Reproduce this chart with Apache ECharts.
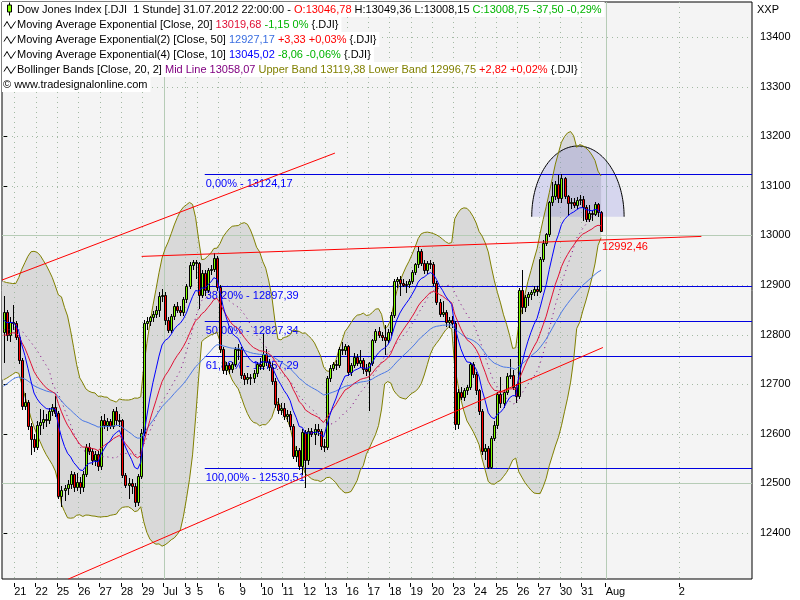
<!DOCTYPE html>
<html><head><meta charset="utf-8">
<script src="https://cdn.jsdelivr.net/npm/echarts@6.0.0/dist/echarts.min.js"></script>
<style>html,body{margin:0;padding:0;background:#fff}#c{width:800px;height:600px}</style>
</head><body><div id="c"></div>
<script>
// ---------- DATA (hourly bars, Dow Jones Index, 20 Jun - 31 Jul 2012) ----------
const opens = [
 12806,12846,12800,12826,
 12824,12796,12748,12657,12664,12615,12590,
 12574,12618,12624,12630,12627,12645,12655,
 12641,12474,12486,12490,12499,12520,12492,
 12503,12492,12520,12574,12566,12548,12560,
 12535,12628,12618,12625,12616,12645,12628,
 12627,12517,12496,12500,12494,12462,12514,
 12602,12823,12828,12835,12842,12850,12878,
 12880,12830,12810,12838,12858,12850,12845,
 12871,12898,12940,12947,
 12944,12880,12925,12890,12930,12932,12955,
 12897,12772,12728,12738,12730,12740,12770,
 12772,12718,12710,12714,12712,12722,12740,
 12736,12760,12745,12735,12706,12660,12648,
 12653,12636,12640,12615,12556,12568,12535,
 12604,12548,12605,12600,12610,12605,12576,
 12573,12712,12732,12740,12738,12770,12768,
 12777,12725,12738,12755,12742,12748,12730,
 12727,12742,12789,12808,12799,12796,12790,
 12805,12840,12908,12912,12905,12900,12902,
 12909,12927,12942,12968,12945,12930,12944,
 12943,12905,12866,12842,12846,12826,12830,
 12823,12620,12684,12675,12688,12694,12740,
 12721,12688,12645,12565,12572,12534,12592,
 12617,12680,12662,12684,12717,12718,12695,
 12676,12890,12855,12876,12882,12886,12892,
 12888,12952,12985,13002,13068,13080,13104,
 13076,13115,13080,13066,13068,13062,13072,
 13073,13058,13034,13046,13044,13064,13046.78];
const highs = [
 12877,12850,12835,12860,
 12828,12800,12752,12682,12668,12622,12600,
 12625,12650,12648,12640,12652,12660,12676,
 12646,12495,12496,12506,12525,12524,12522,
 12512,12525,12580,12582,12572,12565,12566,
 12635,12640,12632,12630,12650,12655,12640,
 12630,12522,12510,12508,12500,12518,12610,
 12830,12835,12838,12848,12858,12886,12892,
 12885,12836,12842,12862,12866,12858,12875,
 12902,12946,12950,12950,
 12946,12930,12930,12935,12940,12964,12958,
 12900,12775,12745,12742,12745,12775,12782,
 12776,12722,12722,12720,12728,12745,12752,
 12802,12770,12750,12742,12712,12672,12662,
 12662,12648,12645,12620,12575,12572,12610,
 12608,12612,12612,12620,12620,12610,12590,
 12716,12738,12745,12748,12775,12785,12782,
 12780,12742,12762,12760,12768,12752,12740,
 12745,12792,12812,12815,12805,12820,12812,
 12845,12912,12916,12918,12912,12908,12912,
 12930,12945,12977,12972,12950,12948,12950,
 12946,12908,12872,12868,12850,12835,12838,
 12828,12690,12695,12692,12698,12745,12744,
 12724,12690,12650,12580,12575,12596,12625,
 12685,12715,12688,12722,12750,12728,12700,
 12893,12930,12880,12885,12890,12898,12898,
 12956,12990,13005,13070,13108,13110,13122,
 13124.17,13118,13082,13075,13076,13078,13082,
 13080,13062,13062,13050,13068,13066,13049.36];
const lows = [
 12745,12790,12788,12812,
 12792,12742,12650,12650,12610,12560,12565,
 12570,12600,12612,12615,12622,12638,12636,
 12470,12455,12466,12478,12490,12485,12486,
 12480,12485,12515,12560,12540,12538,12528,
 12530,12612,12608,12612,12612,12620,12615,
 12512,12493,12470,12480,12455,12456,12510,
 12598,12812,12820,12828,12836,12838,12868,
 12822,12806,12805,12832,12845,12840,12840,
 12866,12893,12932,12915,
 12853,12875,12880,12886,12922,12928,12890,
 12765,12722,12720,12722,12724,12736,12750,
 12712,12700,12702,12700,12705,12716,12730,
 12730,12738,12728,12700,12655,12642,12640,
 12630,12625,12610,12552,12545,12530,12520,
 12493,12540,12596,12580,12598,12570,12565,
 12570,12706,12728,12730,12734,12760,12760,
 12718,12718,12735,12738,12735,12722,12718,
 12648,12738,12785,12795,12790,12760,12785,
 12800,12835,12895,12880,12898,12885,12895,
 12905,12922,12937,12940,12925,12925,12935,
 12900,12862,12838,12838,12818,12815,12815,
 12610,12612,12670,12668,12680,12690,12715,
 12680,12640,12560,12550,12530.51,12532,12588,
 12612,12655,12655,12680,12712,12690,12665,
 12672,12843,12848,12860,12872,12880,12880,
 12885,12948,12980,12998,13062,13074,13068,
 13068,13075,13042,13055,13058,13056,13064,
 13031,13030,13030,13032,13042,13040,13008.15];
const closes = [
 12846,12800,12826,12824,
 12796,12748,12657,12664,12615,12590,12574,
 12618,12624,12630,12627,12645,12655,12641,
 12474,12486,12490,12499,12520,12492,12503,
 12492,12520,12574,12566,12548,12560,12535,
 12628,12618,12625,12616,12645,12628,12627,
 12517,12496,12500,12494,12462,12514,12602,
 12823,12828,12835,12842,12850,12878,12880,
 12830,12810,12838,12858,12850,12845,12871,
 12898,12940,12947,12944,
 12880,12925,12890,12930,12932,12955,12897,
 12772,12728,12738,12730,12740,12770,12772,
 12718,12710,12714,12712,12722,12740,12736,
 12760,12745,12735,12706,12660,12648,12653,
 12636,12640,12615,12556,12568,12535,12604,
 12548,12605,12600,12610,12605,12576,12573,
 12712,12732,12740,12738,12770,12768,12777,
 12725,12738,12755,12742,12748,12730,12727,
 12742,12789,12808,12799,12796,12790,12805,
 12840,12908,12912,12905,12900,12902,12909,
 12927,12942,12968,12945,12930,12944,12943,
 12905,12866,12842,12846,12826,12830,12823,
 12620,12684,12675,12688,12694,12740,12721,
 12688,12645,12565,12572,12534,12592,12617,
 12680,12662,12684,12717,12718,12695,12676,
 12890,12855,12876,12882,12886,12892,12888,
 12952,12985,13002,13068,13080,13104,13076,
 13115,13080,13066,13068,13062,13072,13073,
 13058,13034,13046,13044,13064,13046.25,13008.75];

// Bollinger band values for the first 19 bars (before a full 20-bar window exists)
const bbUpperStart = [12907,12905,12904,12903,12903,12915,12932,12945,12958,12967,12968,12966,12960,12950,12940,12928,12915,12898,12880];
const bbLowerStart = [12709,12712,12716,12720,12724,12722,12700,12676,12655,12632,12614,12598,12584,12570,12558,12548,12538,12525,12500];
const bbMidStart   = [12810,12810,12810,12811,12811,12810,12808,12800,12792,12785,12776,12768,12758,12748,12738,12728,12703,12690,12680];
// EMA values just before the first visible bar
const emaSeeds = {ema10: 12826, ema20: 12794, ema50: 12690};

// x-axis day labels and the bar index at which each day starts
const dayLabels = ['21','22','25','26','27','28','29','Jul','3','5','6','9','10','11','12','13','16','17','18','19','20','23','24','25','26','27','30','31','Aug','2'];
const dayStartIdx = [4,11,18,25,32,39,46,53,60,64,71,78,85,92,99,106,113,120,127,134,141,148,155,162,169,176,183,190,198,222];
const monthStarts = ['Jul','Aug'];
const totalSlots = 246;

// price axis
const priceTicks = [12400,12500,12600,12700,12800,12900,13000,13100,13200,13300,13400];
const solidPrices = [12500,13000];
const priceMin = 12307.3, priceMax = 13470.6;

// Fibonacci retracement
const fibNames  = ['0,00%','38,20%','50,00%','61,80%','100,00%'];
const fibLevels = [13124.17,12897.39,12827.34,12757.29,12530.51];
const fibStartIdx = 66;

// trend lines [barIndex, price]
const trendUpper = [[-0.5,12910],[108.7,13166]];
const trendLower = [[21.2,12307],[196.6,12774]];
const trendFlat  = [[45.3,12957.7],[228.9,12998.0]];
const flatLabel  = {idx:196, value:12992.46, text:'12992,46'};

// half-ellipse marker (center bar index, center price, half-width in bars, top price)
const ellipse = {cx:188.4, cy:13037.7, rx:15.15, top:13180.3};

// ---------- derived indicators ----------
function emaCalc(seed, period){ const k = 2/(period+1); let e = seed; return closes.map(c => (e = e + k*(c - e))); }
const ema10 = emaCalc(emaSeeds.ema10, 10);
const ema20 = emaCalc(emaSeeds.ema20, 20);
const ema50 = emaCalc(emaSeeds.ema50, 50);
const bbU = [], bbL = [], bbM = [];
for (let i = 0; i < closes.length; i++) {
  if (i < 19) { bbU.push(bbUpperStart[i]); bbL.push(bbLowerStart[i]); bbM.push(bbMidStart[i]); continue; }
  const w = closes.slice(i-19, i+1);
  const m = w.reduce((a,b)=>a+b,0)/20;
  const sd = Math.sqrt(w.reduce((a,b)=>a+(b-m)*(b-m),0)/20);
  bbU.push(m+2*sd); bbL.push(m-2*sd); bbM.push(m);
}
const N = closes.length;
const fmt = v => v.toFixed(2).replace('.', ',');

// ---------- chart ----------
const FAM = '"Liberation Sans", Arial, sans-serif';
const F11 = '11px ' + FAM;
const chart = echarts.init(document.getElementById('c'), null, {renderer:'canvas'});
const P = v => Math.round(v) + 0.5;
const tickVals = dayStartIdx.map(i => i - 0.5);

const pairs = arr => arr.map((v,i)=>[i,v]);
const lineS = (name, data, color, z, dash) => ({
  name, type:'line', data, symbol:'none', z, silent:true, animation:false,
  lineStyle:{color, width:1, type: dash || 'solid'}
});

const option = {
  animation:false,
  backgroundColor:'#ffffff',
  grid:{left:2, top:2, right:48, bottom:21, show:true, backgroundColor:'#f4f4f4', borderColor:'#000', borderWidth:1},
  xAxis:{type:'value', min:-0.5, max: totalSlots-0.5, offset:4,
    axisLine:{show:false}, splitLine:{show:false},
    axisTick:{show:true, length:4, customValues: tickVals, lineStyle:{color:'#000'}},
    axisLabel:{customValues: tickVals, align:'left', margin:3, color:'#000', fontSize:11, fontFamily:FAM,
      formatter: v => { const k = dayStartIdx.indexOf(Math.round(v+0.5)); return k >= 0 ? dayLabels[k] : ''; }}
  },
  yAxis:{type:'value', position:'right', min:priceMin, max:priceMax, offset:3,
    axisLine:{show:false}, splitLine:{show:false},
    axisTick:{show:true, length:4, customValues: priceTicks, lineStyle:{color:'#000'}},
    axisLabel:{customValues: priceTicks, margin:5, color:'#000', fontSize:11, fontFamily:FAM, formatter: v => String(Math.round(v))}
  },
  series:[
    // Bollinger fill
    {type:'custom', z:1, silent:true, data:[[0, bbU[0]]], renderItem:(params, api) => {
      const pts = [];
      for (let i=0;i<N;i++) pts.push(api.coord([i, bbU[i]]));
      for (let i=N-1;i>=0;i--) pts.push(api.coord([i, bbL[i]]));
      pts[0][0] = params.coordSys.x; pts[pts.length-1][0] = params.coordSys.x;
      return {type:'polygon', shape:{points:pts}, style:{fill:'#d9d9d9'}};
    }},
    // grid lines
    {type:'custom', z:2, silent:true, data:[[0, 13000]], renderItem:(params, api) => {
      const cs = params.coordSys, ch = [];
      priceTicks.forEach(v => {
        const y = P(api.coord([0, v])[1]);
        const solid = solidPrices.includes(v);
        const st = solid ? {stroke:'#b6ccb6', lineWidth:1} : {stroke:'#a3b9a3', lineWidth:1, lineDash:[1,4]};
        ch.push({type:'line', shape:{x1:cs.x, y1:y, x2:cs.x+cs.width, y2:y}, style:st});
      });
      tickVals.forEach((t,k) => {
        const x = P(api.coord([t, 13000])[0]);
        const solid = monthStarts.includes(dayLabels[k]);
        const st = solid ? {stroke:'#b6ccb6', lineWidth:1} : {stroke:'#a3b9a3', lineWidth:1, lineDash:[1,4]};
        ch.push({type:'line', shape:{x1:x, y1:cs.y, x2:x, y2:cs.y+cs.height}, style:st});
      });
      return {type:'group', children:ch};
    }},
    // half ellipse
    {type:'custom', z:3, silent:true, data:[[ellipse.cx, ellipse.cy]], renderItem:(params, api) => {
      const c = api.coord([ellipse.cx, ellipse.cy]);
      const l = api.coord([ellipse.cx-ellipse.rx, ellipse.cy]);
      const t = api.coord([ellipse.cx, ellipse.top]);
      const rx = c[0]-l[0], ry = c[1]-t[1];
      const pts = [];
      for (let a=180; a>=0; a-=2) { const r = a*Math.PI/180; pts.push([c[0]+rx*Math.cos(r), c[1]-ry*Math.sin(r)]); }
      return {type:'group', children:[
        {type:'polygon', shape:{points:pts}, style:{fill:'rgba(95,95,215,0.2)'}},
        {type:'polyline', shape:{points:pts}, style:{stroke:'#000', lineWidth:1, fill:null}}
      ]};
    }},
    // fibonacci
    {type:'custom', z:4, silent:true, data: fibLevels.map(v => [fibStartIdx, v]), renderItem:(params, api) => {
      const i = params.dataIndex;
      const p = api.coord([fibStartIdx, fibLevels[i]]);
      const cs = params.coordSys;
      const y = P(p[1]);
      return {type:'group', children:[
        {type:'line', shape:{x1:p[0], y1:y, x2:cs.x+cs.width, y2:y}, style:{stroke:'#0000e0', lineWidth:1}},
        {type:'text', x:p[0]+1, y:y+9, style:{text: fibNames[i] + ' - ' + fmt(fibLevels[i]), fill:'#0000ff', font:F11, align:'left', verticalAlign:'middle'}}
      ]};
    }},
    // bollinger lines
    lineS('BB upper', pairs(bbU), '#808000', 5),
    lineS('BB lower', pairs(bbL), '#808000', 5),
    // candles
    {type:'custom', z:6, silent:true, data: closes.map((c,i)=>[i, opens[i], highs[i], lows[i], c]), renderItem:(params, api) => {
      const i = api.value(0), o = api.value(1), h = api.value(2), l = api.value(3), c = api.value(4);
      const pO = api.coord([i,o]), pC = api.coord([i,c]), pH = api.coord([i,h]), pL = api.coord([i,l]);
      const cx = Math.round(pO[0]);
      const top = Math.round(Math.min(pO[1], pC[1])), bot = Math.round(Math.max(pO[1], pC[1]));
      const fill = c > o ? '#80ff00' : (c < o ? '#ff0000' : '#000000');
      return {type:'group', children:[
        {type:'line', shape:{x1:cx+0.5, y1:Math.round(pH[1]), x2:cx+0.5, y2:Math.round(pL[1])+1}, style:{stroke:'#000', lineWidth:1}},
        {type:'rect', shape:{x:cx-0.5, y:top+0.5, width:2, height:Math.max(bot-top,1)}, style:{fill, stroke:'#000', lineWidth:1}}
      ]};
    }},
    lineS('BB mid', pairs(bbM), '#800080', 7, [1,4]),
    lineS('EMA50', pairs(ema50), '#4a78e6', 7),
    lineS('EMA20', pairs(ema20), '#e01035', 7),
    lineS('EMA10', pairs(ema10), '#0000ff', 7),
    lineS('trend upper', trendUpper, '#ff0000', 8),
    lineS('trend lower', trendLower, '#ff0000', 8),
    lineS('trend flat', trendFlat, '#ff0000', 8),
    // label of flat trend line
    {type:'custom', z:9, silent:true, data:[[flatLabel.idx, flatLabel.value]], renderItem:(params, api) => {
      const p = api.coord([flatLabel.idx, flatLabel.value]);
      return {type:'text', x:p[0]+1, y:p[1]+8, style:{text:flatLabel.text, fill:'#ff0000', font:F11, align:'left', verticalAlign:'middle'}};
    }}
  ],
  graphic: []
};

// ---------- header legend ----------
const last = N-1;
const chg = closes[last]-closes[last-1];
const DJI = '{k| }{.DJI}';
const rows = [
  {text:'{k|Dow Jones Index [.DJI  1 Stunde] 31.07.2012 22:00:00 - }{r|O:' + fmt(opens[last]) + '}{k| H:' + fmt(highs[last]) + ' L:' + fmt(lows[last]) + ' }{g|C:' + fmt(closes[last]) + ' ' + fmt(chg) + ' ' + fmt(chg/closes[last-1]*100) + '%}', icon:'candle'},
  {text:'{k|Moving Average Exponential [Close, 20] }{c|13019,68}{g| -1,15 0%}' + DJI, icon:'wave'},
  {text:'{k|Moving Average Exponential(2) [Close, 50] }{b2|12927,17}{r| +3,33 +0,03%}' + DJI, icon:'wave'},
  {text:'{k|Moving Average Exponential(4) [Close, 10] }{b|13045,02}{g| -8,06 -0,06%}' + DJI, icon:'wave'},
  {text:'{k|Bollinger Bands [Close, 20, 2] }{p|Mid Line 13058,07}{o| Upper Band 13119,38 Lower Band 12996,75}{r| +2,82 +0,02%}' + DJI, icon:'wave'},
  {text:'{k|© www.tradesignalonline.com}', icon:null}
];
const rich = {
  k:{fill:'#000', font:F11}, r:{fill:'#ff0000', font:F11}, g:{fill:'#00b400', font:F11},
  c:{fill:'#e01035', font:F11}, b2:{fill:'#3a6ee0', font:F11}, b:{fill:'#0000ff', font:F11},
  p:{fill:'#800080', font:F11}, o:{fill:'#808000', font:F11}
};
rows.forEach((r, k) => {
  const top = 2 + 15*k;
  option.graphic.push({type:'text', x:2, y:top, z:100, silent:true,
    style:{text:r.text, rich, font:F11, fill:'#000', backgroundColor:'#ffffff', padding:[1,3,1, r.icon ? 15 : 1], lineHeight:13, verticalAlign:'top'}});
  const cy = top + 7.5;
  if (r.icon === 'candle') {
    option.graphic.push({type:'line', z:101, silent:true, shape:{x1:9.5, y1:cy-7, x2:9.5, y2:cy+6}, style:{stroke:'#000', lineWidth:1}});
    option.graphic.push({type:'rect', z:102, silent:true, shape:{x:7.5, y:cy-4.5, width:4, height:7}, style:{fill:'#80ff00', stroke:'#000', lineWidth:1}});
  } else if (r.icon === 'wave') {
    option.graphic.push({type:'polyline', z:101, silent:true, shape:{points:[[4,cy+2],[7,cy-3],[11,cy+4],[15.5,cy-3]]}, style:{stroke:'#000', lineWidth:1, fill:null}});
  }
});
option.graphic.push({type:'text', x:757, y:4, z:100, silent:true, style:{text:'XXP', font:F11, fill:'#000'}});

chart.setOption(option);
</script>
</body></html>
